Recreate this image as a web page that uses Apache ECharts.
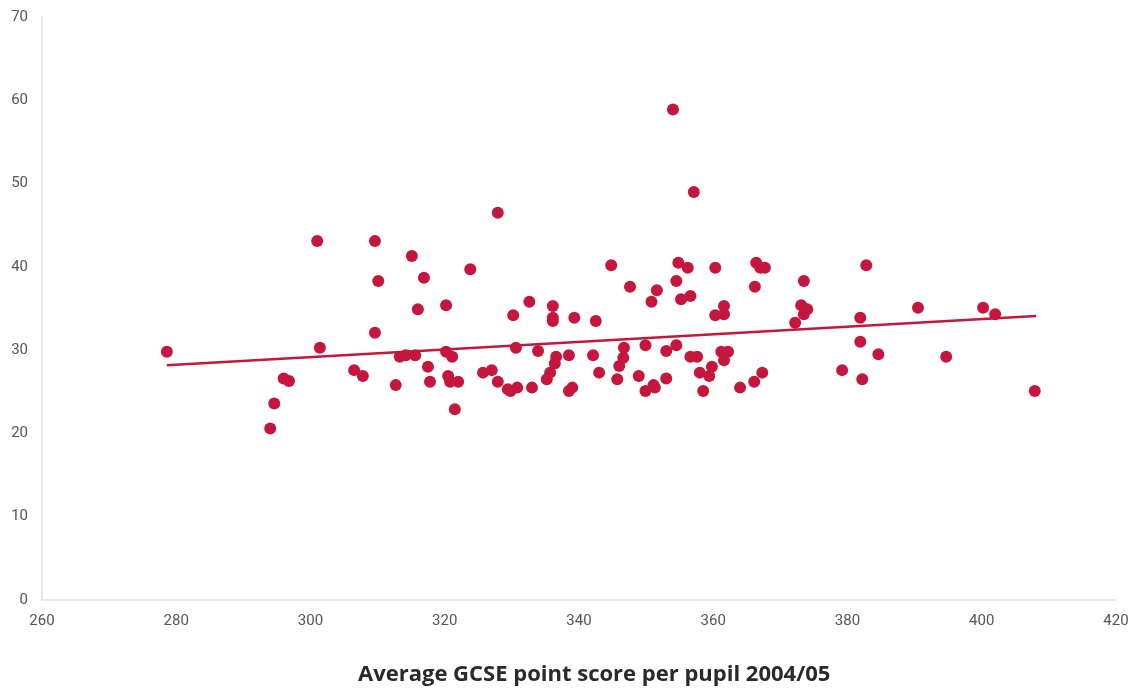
<!DOCTYPE html>
<html>
<head>
<meta charset="utf-8">
<script src="https://cdn.jsdelivr.net/npm/echarts@6/dist/echarts.min.js"></script>
<style>
html, body { margin: 0; padding: 0; background: #fff; }
#chart { width: 1134px; height: 688px; }
</style>
</head>
<body>
<div id="chart"></div>
<script>
// average GCSE point score per pupil (x)
var scoreX = [
	278.6, 294.0, 294.6, 296.0, 296.8, 301.0, 301.4, 306.5, 307.8, 309.6,
	309.6, 310.1, 312.7, 313.3, 314.2, 315.1, 315.6, 316.0, 316.9, 317.5,
	317.8, 320.2, 320.2, 320.5, 321.1, 320.8, 321.5, 322.0, 323.8, 325.7,
	327.0, 327.9, 327.9, 329.4, 329.8, 330.2, 330.6, 330.8, 332.6, 333.0,
	333.9, 335.2, 335.7, 336.1, 336.1, 336.1, 336.6, 336.4, 338.5, 338.5,
	339.0, 339.3, 342.1, 342.5, 343.0, 344.8, 345.7, 346.0, 346.6, 346.7,
	347.6, 348.9, 349.9, 349.9, 350.8, 351.1, 351.3, 351.6, 353.0, 353.0,
	354.0, 354.5, 354.5, 354.8, 355.2, 356.2, 356.6, 356.6, 357.1, 357.6,
	358.0, 358.5, 359.4, 359.8, 360.3, 360.3, 361.2, 361.6, 361.6, 361.6,
	362.2, 364.0, 366.1, 366.2, 366.4, 367.0, 367.7, 367.3, 372.2, 373.1,
	373.5, 373.5, 374.0, 379.2, 381.9, 381.9, 382.2, 382.8, 384.6, 390.5,
	394.7, 400.2, 402.0, 407.9
];
// y value for each point
var valueY = [
	29.8, 20.6, 23.6, 26.6, 26.3, 43.1, 30.3, 27.6, 26.9, 43.1,
	32.1, 38.3, 25.8, 29.2, 29.4, 41.3, 29.4, 34.9, 38.7, 28.0,
	26.2, 35.4, 29.8, 26.9, 29.2, 26.2, 22.9, 26.2, 39.7, 27.3,
	27.6, 46.5, 26.2, 25.3, 25.1, 34.2, 30.3, 25.5, 35.8, 25.5,
	29.9, 26.5, 27.3, 35.3, 33.9, 33.5, 29.2, 28.4, 29.4, 25.1,
	25.5, 33.9, 29.4, 33.5, 27.3, 40.2, 26.5, 28.1, 29.1, 30.3,
	37.6, 26.9, 30.6, 25.1, 35.8, 25.8, 25.5, 37.2, 29.9, 26.6,
	58.9, 30.6, 38.3, 40.5, 36.1, 39.9, 36.5, 29.2, 49.0, 29.2,
	27.3, 25.1, 26.9, 28.0, 39.9, 34.2, 29.8, 34.3, 35.3, 28.8,
	29.8, 25.5, 26.2, 37.6, 40.5, 39.9, 39.9, 27.3, 33.3, 35.4,
	38.3, 34.3, 34.9, 27.6, 33.9, 31.0, 26.5, 40.2, 29.5, 35.1,
	29.2, 35.1, 34.3, 25.1
];
// trend line end points
var trendX = [278.6, 408.1];
var trendY = [28.2, 34.1];

var xTicks = [260, 280, 300, 320, 340, 360, 380, 400, 420];
var yTicks = [0, 10, 20, 30, 40, 50, 60, 70];

var points = scoreX.map(function (x, i) { return [x, valueY[i]]; });
var trend = trendX.map(function (x, i) { return [x, trendY[i]]; });

var red = '#c5173d';
var myChart = echarts.init(document.getElementById('chart'));

var option = {
	animation: false,
	title: {
		text: 'Average GCSE point score per pupil 2004/05',
		left: 353,
		top: 659,
		textStyle: {
			fontFamily: 'Open Sans',
			fontSize: 22,
			fontWeight: 'bold',
			color: '#2a2a2a'
		}
	},
	grid: {left: 42, right: 18, top: 17, bottom: 88},
	xAxis: {
		type: 'value',
		min: xTicks[0],
		max: xTicks[xTicks.length - 1],
		interval: 20,
		axisLine: {lineStyle: {color: '#e2e2e2', width: 1.5}},
		axisTick: {show: false},
		splitLine: {show: false},
		axisLabel: {color: '#555', fontFamily: 'Roboto', fontSize: 15, margin: 14}
	},
	yAxis: {
		type: 'value',
		min: yTicks[0],
		max: yTicks[yTicks.length - 1],
		interval: 10,
		axisLine: {show: true, lineStyle: {color: '#e2e2e2', width: 1.5}},
		axisTick: {show: false},
		splitLine: {show: false},
		axisLabel: {color: '#555', fontFamily: 'Roboto', fontSize: 15, margin: 14}
	},
	series: [
	{
		type: 'scatter',
		data: points,
		symbolSize: 12,
		itemStyle: {color: red, opacity: 1},
		z: 3
	},
	{
		type: 'line',
		data: trend,
		symbol: 'none',
		lineStyle: {color: red, width: 2.5},
		z: 2
	}
	]
};

myChart.setOption(option);
</script>
</body>
</html>
